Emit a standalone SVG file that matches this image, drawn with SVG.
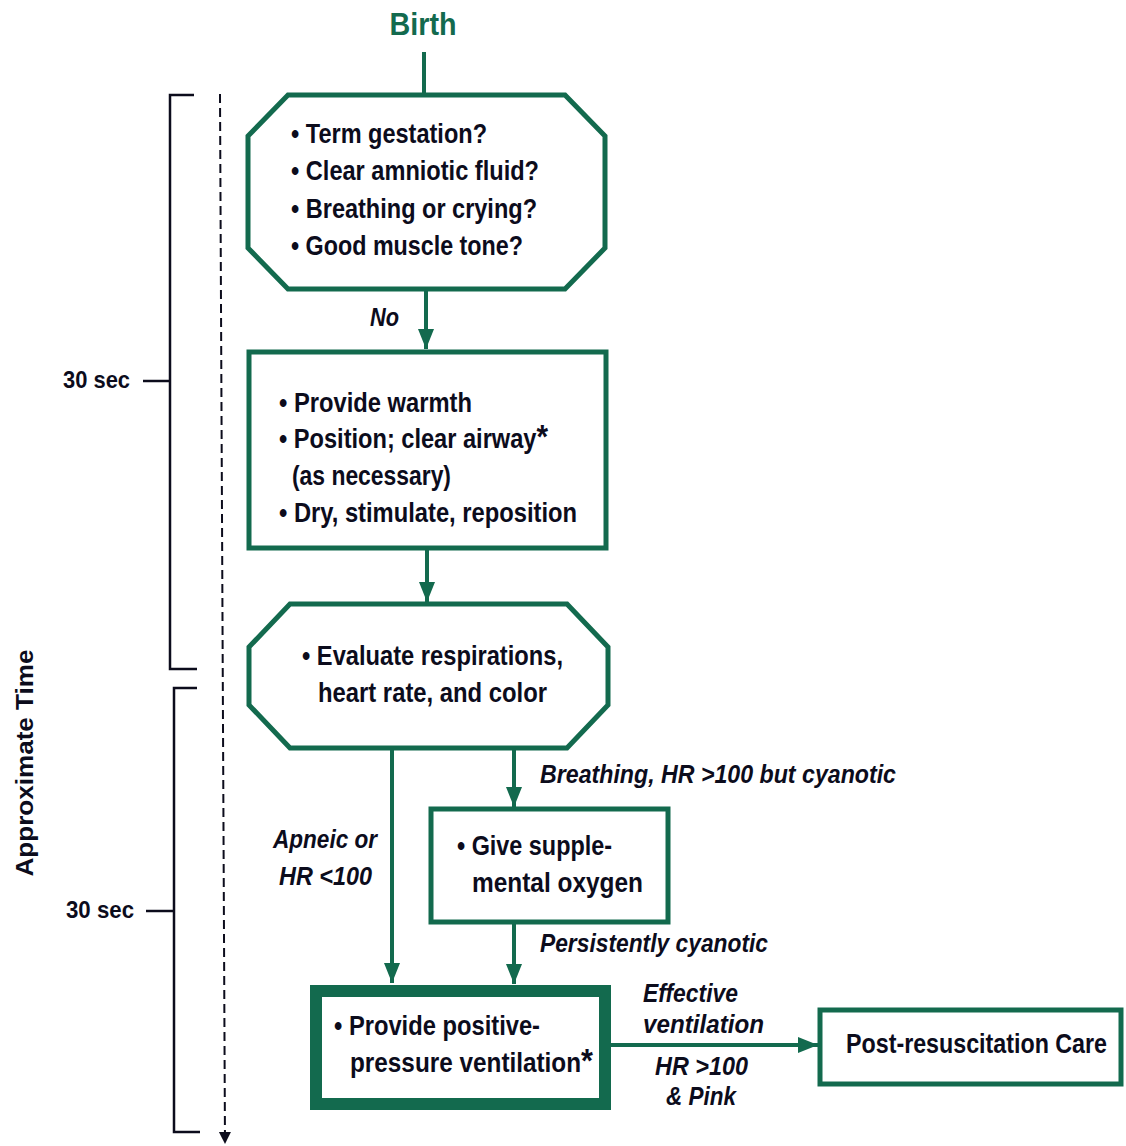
<svg xmlns="http://www.w3.org/2000/svg" width="1126" height="1146" viewBox="0 0 1126 1146">
  <style>
    .box { fill: #ffffff; stroke: #136a4e; stroke-width: 5; stroke-linejoin: miter; }
    .thick { stroke-width: 12; }
    .t { font-family: "Liberation Sans", Arial, sans-serif; font-weight: bold; font-size: 27px; fill: #0c0c1c; }
    .lbl { font-family: "Liberation Sans", Arial, sans-serif; font-weight: bold; font-style: italic; font-size: 25px; fill: #0c0c1c; }
    .ast { font-size: 34px; }
    .time { font-family: "Liberation Sans", Arial, sans-serif; font-weight: bold; font-size: 24px; fill: #0c0c1c; }
    .conn { stroke: #136a4e; stroke-width: 4; fill: none; }
    .brk { stroke: #0c0c1c; stroke-width: 2.5; fill: none; }
  </style>
  <defs>
    <marker id="arrow" viewBox="0 0 20 16" refX="20" refY="8" markerWidth="20" markerHeight="16" markerUnits="userSpaceOnUse" orient="auto">
      <path d="M0,0 L20,8 L0,16 z" fill="#136a4e"/>
    </marker>
    <marker id="arrowBlack" viewBox="0 0 12 14" refX="12" refY="7" markerWidth="12" markerHeight="14" markerUnits="userSpaceOnUse" orient="auto">
      <path d="M0,1 L12,7 L0,13 z" fill="#0c0c1c"/>
    </marker>
  </defs>

  <rect width="1126" height="1146" fill="#ffffff"/>

  <!-- time axis -->
  <g id="timeline">
    <text class="time" transform="translate(33,763) rotate(-90)" text-anchor="middle" textLength="227" lengthAdjust="spacingAndGlyphs" font-size="23">Approximate Time</text>
    <path class="brk" d="M194,95 H170 V669 H197"/>
    <line class="brk" x1="143" y1="381" x2="170" y2="381"/>
    <text class="time" x="63" y="388" textLength="67" lengthAdjust="spacingAndGlyphs">30 sec</text>
    <path class="brk" d="M197,688 H174 V1132 H200"/>
    <line class="brk" x1="146" y1="911" x2="174" y2="911"/>
    <text class="time" x="66" y="918" textLength="68" lengthAdjust="spacingAndGlyphs">30 sec</text>
    <line x1="220" y1="94" x2="225" y2="1144" stroke="#0c0c1c" stroke-width="2" stroke-dasharray="9 5" marker-end="url(#arrowBlack)"/>
  </g>

  <!-- start label -->
  <g id="birth">
    <text x="423" y="35" text-anchor="middle" font-family="Liberation Sans, Arial, sans-serif" font-weight="bold" font-size="31" fill="#136a4e" textLength="67" lengthAdjust="spacingAndGlyphs">Birth</text>
  </g>

  <!-- connectors -->
  <g id="connectors">
    <line class="conn" x1="424" y1="52" x2="424" y2="95"/>
    <line class="conn" x1="426" y1="290" x2="426" y2="349" marker-end="url(#arrow)"/>
    <line class="conn" x1="427" y1="548" x2="427" y2="602" marker-end="url(#arrow)"/>
    <line class="conn" x1="392" y1="748" x2="392" y2="983" marker-end="url(#arrow)"/>
    <line class="conn" x1="514" y1="748" x2="514" y2="807" marker-end="url(#arrow)"/>
    <line class="conn" x1="514" y1="921" x2="514" y2="984" marker-end="url(#arrow)"/>
    <line class="conn" x1="611" y1="1045" x2="818" y2="1045" marker-end="url(#arrow)"/>
    <text class="lbl" x="370" y="326" textLength="29" lengthAdjust="spacingAndGlyphs">No</text>
    <text class="lbl" x="540" y="783" textLength="356" lengthAdjust="spacingAndGlyphs">Breathing, HR &gt;100 but cyanotic</text>
    <text class="lbl" x="273" y="848" textLength="104" lengthAdjust="spacingAndGlyphs">Apneic or</text>
    <text class="lbl" x="279" y="885" textLength="93" lengthAdjust="spacingAndGlyphs">HR &lt;100</text>
    <text class="lbl" x="540" y="952" textLength="228" lengthAdjust="spacingAndGlyphs">Persistently cyanotic</text>
    <text class="lbl" x="643" y="1002" textLength="95" lengthAdjust="spacingAndGlyphs">Effective</text>
    <text class="lbl" x="643" y="1033" textLength="121" lengthAdjust="spacingAndGlyphs">ventilation</text>
    <text class="lbl" x="655" y="1075" textLength="93" lengthAdjust="spacingAndGlyphs">HR &gt;100</text>
    <text class="lbl" x="666" y="1105" textLength="70" lengthAdjust="spacingAndGlyphs">&amp; Pink</text>
  </g>

  <!-- initial assessment -->
  <g id="assess">
    <polygon class="box" points="288,95 565,95 605,136 605,248 565,289 288,289 248,248 248,136"/>
    <text class="t" x="291" y="143" textLength="196" lengthAdjust="spacingAndGlyphs">• Term gestation?</text>
    <text class="t" x="291" y="180" textLength="248" lengthAdjust="spacingAndGlyphs">• Clear amniotic fluid?</text>
    <text class="t" x="291" y="218" textLength="246" lengthAdjust="spacingAndGlyphs">• Breathing or crying?</text>
    <text class="t" x="291" y="255" textLength="232" lengthAdjust="spacingAndGlyphs">• Good muscle tone?</text>
  </g>

  <!-- initial steps -->
  <g id="initial-steps">
    <rect class="box" x="249" y="352" width="357" height="196"/>
    <text class="t" x="279" y="412" textLength="193" lengthAdjust="spacingAndGlyphs">• Provide warmth</text>
    <text class="t" x="279" y="448" textLength="269" lengthAdjust="spacingAndGlyphs">• Position; clear airway<tspan class="ast">*</tspan></text>
    <text class="t" x="292" y="485" textLength="159" lengthAdjust="spacingAndGlyphs">(as necessary)</text>
    <text class="t" x="279" y="522" textLength="298" lengthAdjust="spacingAndGlyphs">• Dry, stimulate, reposition</text>
  </g>

  <!-- evaluation -->
  <g id="evaluate">
    <polygon class="box" points="290,604 567,604 608,647 608,705 567,748 290,748 249,705 249,647"/>
    <text class="t" x="302" y="665" textLength="261" lengthAdjust="spacingAndGlyphs">• Evaluate respirations,</text>
    <text class="t" x="318" y="702" textLength="229" lengthAdjust="spacingAndGlyphs">heart rate, and color</text>
  </g>

  <!-- oxygen -->
  <g id="oxygen">
    <rect class="box" x="431" y="809" width="237" height="113"/>
    <text class="t" x="457" y="855" textLength="155" lengthAdjust="spacingAndGlyphs">• Give supple-</text>
    <text class="t" x="472" y="892" textLength="171" lengthAdjust="spacingAndGlyphs">mental oxygen</text>
  </g>

  <!-- ventilation -->
  <g id="ppv">
    <rect class="box thick" x="316" y="991" width="289" height="113"/>
    <text class="t" x="334" y="1035" textLength="206" lengthAdjust="spacingAndGlyphs">• Provide positive-</text>
    <text class="t" x="350" y="1072" textLength="243" lengthAdjust="spacingAndGlyphs">pressure ventilation<tspan class="ast">*</tspan></text>
  </g>

  <!-- post-resuscitation -->
  <g id="post-care">
    <rect class="box" x="820" y="1010" width="301" height="74"/>
    <text class="t" x="846" y="1053" font-size="25" textLength="261" lengthAdjust="spacingAndGlyphs">Post-resuscitation Care</text>
  </g>
</svg>
